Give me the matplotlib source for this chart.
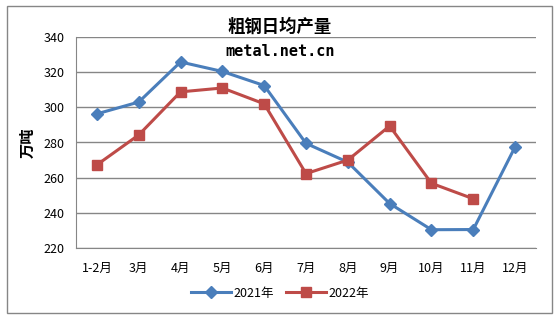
import matplotlib
matplotlib.use("Agg")
import matplotlib.pyplot as plt
from matplotlib.patches import Rectangle

plt.rcParams['font.family'] = ['Noto Sans CJK SC', 'DejaVu Sans']

months = ["1-2月", "3月", "4月", "5月", "6月", "7月", "8月", "9月", "10月", "11月", "12月"]
y2021 = [296.3, 303.0, 325.8, 320.4, 312.4, 279.5, 268.8, 245.3, 230.4, 230.5, 277.5]
y2022 = [267.3, 284.3, 308.8, 311.0, 302.0, 262.3, 270.0, 289.4, 256.8, 248.0]

fig = plt.figure(figsize=(5.6, 3.21), dpi=100)
ax = fig.add_axes([76/560, 73/321, 460/560, 211/321])

# outer frame like the excel chart area
fig.patches.append(Rectangle((7/560, 8/321), 545/560, 307/321, transform=fig.transFigure,
                             fill=False, edgecolor="#868686", linewidth=1))

x = list(range(len(months)))
ax.plot(x, y2021, color="#4A7EBB", linewidth=2.2, marker="D", markersize=6, label="2021年")
ax.plot(x[:len(y2022)], y2022, color="#BE4B48", linewidth=2.2, marker="s", markersize=7.5, label="2022年")

ax.set_xlim(-0.5, 10.5)
ax.set_ylim(220, 340)
ax.set_yticks(range(220, 341, 20))
ax.set_xticks(x)
ax.set_xticklabels(months)
ax.yaxis.grid(True, color="#868686", linewidth=1)
ax.set_axisbelow(True)
ax.tick_params(length=0, labelsize=9, pad=8)
ax.tick_params(axis="x", pad=10)
for s in ["top", "right"]:
    ax.spines[s].set_visible(False)
for s in ["left", "bottom"]:
    ax.spines[s].set_color("#868686")

ax.set_ylabel("万吨", fontsize=11, fontweight="bold", labelpad=6)

fig.text(0.5, 1 - 27/321, "粗钢日均产量", ha="center", va="center", fontsize=12.5, fontweight="bold")
fig.text(0.5, 1 - 52/321, "metal.net.cn", ha="center", va="center", fontsize=11,
         fontweight="bold", family="DejaVu Sans Mono")

fig.legend(loc="center", bbox_to_anchor=(0.5, 1 - 293/321), ncol=2, frameon=False,
           fontsize=9, handlelength=3.2, columnspacing=1.0, handletextpad=0.2)

fig.savefig("out.png", dpi=100)
